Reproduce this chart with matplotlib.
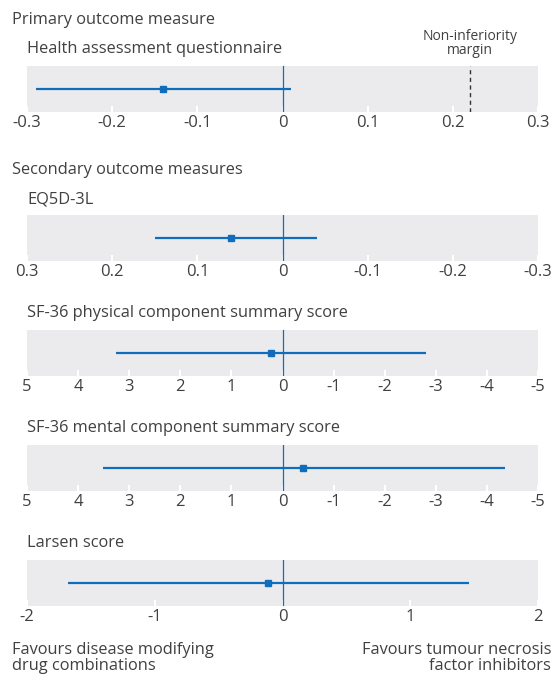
import matplotlib
matplotlib.use("Agg")
import matplotlib.pyplot as plt

plt.rcParams['font.family'] = ['Open Sans', 'DejaVu Sans']

# outcome measures, in drawing order
titles = ["Health assessment questionnaire", "EQ5D-3L",
          "SF-36 physical component summary score",
          "SF-36 mental component summary score", "Larsen score"]
estimates = [-0.14, 0.06, 0.22, -0.41, -0.11]
lower = [-0.29, -0.04, -2.80, -4.35, -1.68]
upper = [0.01, 0.15, 3.26, 3.51, 1.46]
xlims = [(-0.3, 0.3), (0.3, -0.3), (5, -5), (5, -5), (-2, 2)]
ticks = [[-0.3, -0.2, -0.1, 0, 0.1, 0.2, 0.3],
         [0.3, 0.2, 0.1, 0, -0.1, -0.2, -0.3],
         [5, 4, 3, 2, 1, 0, -1, -2, -3, -4, -5],
         [5, 4, 3, 2, 1, 0, -1, -2, -3, -4, -5],
         [-2, -1, 0, 1, 2]]
margin = 0.22

W, H = 553, 675
blue = '#0f6dbb'
txt = '#404040'
bg = '#ebebed'

fig = plt.figure(figsize=(W / 100, H / 100), dpi=100)

tops = [66, 215, 330, 445, 560]
title_y = [49, 200, 313, 428, 543]
ph = 46
x0, x1 = 27, 538

for i in range(5):
    ax = fig.add_axes([x0 / W, 1 - (tops[i] + ph) / H, (x1 - x0) / W, ph / H])
    ax.set_facecolor(bg)
    for s in ax.spines.values():
        s.set_visible(False)
    ax.set_xlim(*xlims[i])
    ax.set_ylim(-1, 1)
    ax.set_yticks([])
    ax.set_xticks(ticks[i])
    ax.set_xticklabels(['%g' % t for t in ticks[i]])
    ax.tick_params(axis='x', direction='in', length=4.5, width=1.5, color='white',
                   pad=2, labelsize=12, labelcolor=txt)
    ax.axvline(0, color=blue, lw=0.9)
    ax.plot([lower[i], upper[i]], [0, 0], color=blue, lw=1.6, solid_capstyle='butt')
    ax.plot(estimates[i], 0, 's', color=blue, ms=4.8)
    if i == 0:
        ax.axvline(margin, ymin=0, ymax=1, color='#333333', lw=1, ls=(0, (3, 2.5)))
    fig.text(x0 / W, 1 - title_y[i] / H, titles[i], fontsize=11.8, color=txt, va='center')

fig.text(470 / W, 1 - 43.5 / H, "Non-inferiority\nmargin", ha='center', va='center',
         fontsize=10, color=txt, linespacing=1.0)
fig.text(12 / W, 1 - 20.5 / H, "Primary outcome measure", fontsize=11.8, color=txt, va='center')
fig.text(12 / W, 1 - 170 / H, "Secondary outcome measures", fontsize=11.8, color=txt, va='center')
fig.text(12 / W, 1 - 657.5 / H, "Favours disease modifying\ndrug combinations", fontsize=11.8,
         color=txt, va='center', linespacing=1.0)
fig.text(551 / W, 1 - 657.5 / H, "Favours tumour necrosis\nfactor inhibitors", fontsize=11.8,
         color=txt, va='center', ha='right', multialignment='right', linespacing=1.0)

fig.savefig('out.png', dpi=100, facecolor='white')
